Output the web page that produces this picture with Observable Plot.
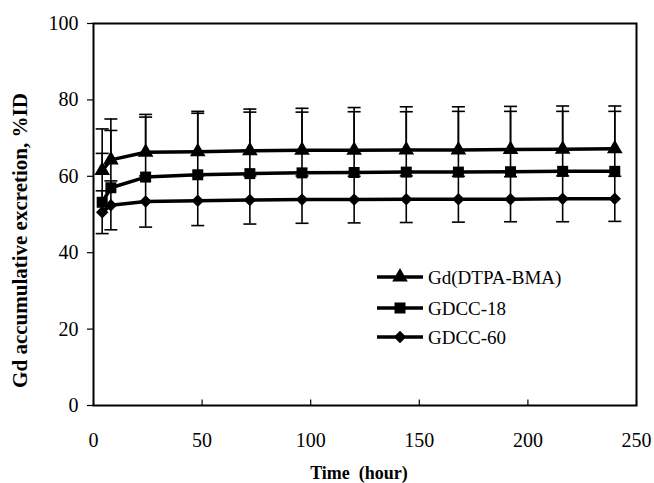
<!DOCTYPE html>
<html>
<head>
<meta charset="utf-8">
<script src="https://cdn.jsdelivr.net/npm/d3@7"></script>
<script src="https://cdn.jsdelivr.net/npm/@observablehq/plot@0.6"></script>
<style>
  html, body { margin: 0; padding: 0; background: #fff; }
  #chart { width: 654px; height: 483px; }
</style>
</head>
<body>
<div id="chart"></div>
<script>
// ---- data ----
const times = [4, 8, 24, 48, 72, 96, 120, 144, 168, 192, 216, 240];
const seriesNames = ["Gd(DTPA-BMA)", "GDCC-18", "GDCC-60"];
const gdValues   = [61.5, 64.3, 66.3, 66.4, 66.7, 66.8, 66.8, 66.9, 66.9, 67.0, 67.1, 67.2];
const gdErr      = [10.9, 10.7, 9.9, 10.6, 10.9, 11.0, 11.2, 11.3, 11.3, 11.3, 11.3, 11.2];
const g18Values  = [53.2, 57.0, 59.8, 60.4, 60.7, 60.9, 61.0, 61.1, 61.1, 61.2, 61.3, 61.3];
const g18Err     = [12.8, 15.0, 15.7, 16.1, 16.1, 15.9, 15.9, 15.8, 15.9, 15.8, 15.7, 15.7];
const g60Values  = [50.6, 52.4, 53.4, 53.6, 53.8, 53.9, 53.9, 54.0, 54.0, 54.0, 54.1, 54.1];
const g60Err     = [5.6, 6.4, 6.7, 6.5, 6.3, 6.2, 6.1, 6.1, 6.0, 5.9, 6.0, 5.9];
const xTicks = [0, 50, 100, 150, 200, 250];
const yTicks = [0, 20, 40, 60, 80, 100];
const xLabel = "Time  (hour)";
const yLabel = "Gd accumulative excretion, %ID";

// ---- table built from the arrays ----
const valueSets = [gdValues, g18Values, g60Values];
const errSets = [gdErr, g18Err, g60Err];
const errUp = [true, true, true];
const errDown = [false, false, true];
const rows = [];
seriesNames.forEach((name, s) => {
  times.forEach((t, i) => {
    const v = valueSets[s][i], e = errSets[s][i];
    rows.push({
      series: name, time: t, value: v,
      lo: errDown[s] ? v - e : v,
      hi: errUp[s] ? v + e : v,
      hasLo: errDown[s], hasHi: errUp[s]
    });
  });
});

const symbolRange = ["triangle", "square", "diamond2"];
const symbolSizes = {"triangle": 5.8, "square": 6.2, "diamond2": 5.6};
const serif = "Liberation Serif";

// custom symbols: horizontal error cap, inward x tick
const capSymbol = { draw(ctx) { ctx.moveTo(-6.5, 0); ctx.lineTo(6.5, 0); } };
const vTickSymbol = { draw(ctx) { ctx.moveTo(0, 0); ctx.lineTo(0, -6); } };

function legendMark(index, scales, values, dims) {
  const g = d3.create("svg:g");
  const x0 = dims.marginLeft + 284, x1 = dims.marginLeft + 330, xm = dims.marginLeft + 307;
  const tops = [254, 285, 314];
  seriesNames.forEach((name, s) => {
    const y = dims.marginTop + tops[s];
    g.append("line").attr("x1", x0).attr("x2", x1).attr("y1", y).attr("y2", y)
      .attr("stroke", "#000").attr("stroke-width", 3.5);
    const sym = {triangle: d3.symbolTriangle, square: d3.symbolSquare, diamond2: d3.symbolDiamond2}[symbolRange[s]];
    const r = symbolSizes[symbolRange[s]];
    g.append("path").attr("transform", `translate(${xm},${y})`)
      .attr("d", d3.symbol(sym, r * r * Math.PI)()).attr("fill", "#000");
    g.append("text").attr("x", x1 + 5).attr("y", y).attr("dy", "0.35em")
      .attr("text-anchor", "start")
      .style("font-family", serif).style("font-size", "19px").attr("fill", "#000").text(name);
  });
  return g.node();
}

const chart = Plot.plot({
  width: 654,
  height: 483,
  marginLeft: 93,
  marginRight: 18,
  marginTop: 23,
  marginBottom: 78,
  style: { fontFamily: serif, background: "#fff", color: "#000" },
  x: { domain: [0, 250] },
  y: { domain: [0, 100] },
  symbol: { domain: seriesNames, range: symbolRange },
  marks: [
    Plot.axisY({ ticks: yTicks, tickSize: 6, tickPadding: 9, fontSize: 20, fontFamily: serif, label: null, stroke: "#000", strokeWidth: 1.2 }),
    Plot.axisX({ ticks: xTicks, tickSize: 0, tickPadding: 27, fontSize: 20, fontFamily: serif, label: null }),
    Plot.dot(xTicks, { x: d => d, frameAnchor: "bottom", symbol: vTickSymbol, stroke: "#000", fill: "none", strokeWidth: 1.2 }),
    // error bars
    Plot.ruleX(rows, { x: "time", y1: "lo", y2: "hi", stroke: "#000", strokeWidth: 1.6 }),
    Plot.dot(rows.filter(d => d.hasHi), { x: "time", y: "hi", symbol: capSymbol, stroke: "#000", fill: "none", strokeWidth: 1.6 }),
    Plot.dot(rows.filter(d => d.hasLo), { x: "time", y: "lo", symbol: capSymbol, stroke: "#000", fill: "none", strokeWidth: 1.6 }),
    // lines
    Plot.line(rows, { x: "time", y: "value", z: "series", stroke: "#000", strokeWidth: 3.5 }),
    // markers
    ...symbolRange.map((sym, s) =>
      Plot.dot(rows.filter(d => d.series === seriesNames[s]), { x: "time", y: "value", symbol: "series", r: symbolSizes[sym], fill: "#000", stroke: "none" })
    ),
    Plot.frame({ stroke: "#000", strokeWidth: 2 }),
    // axis titles
    Plot.text([xLabel], { text: d => d, frameAnchor: "bottom", dy: 73, dx: -6, fontSize: 18, fontWeight: "bold", fontFamily: serif, fill: "#000" }),
    Plot.text([yLabel], { text: d => d, frameAnchor: "left", textAnchor: "middle", rotate: -90, dx: -73, dy: 26, fontSize: 21, fontWeight: "bold", fontFamily: serif, fill: "#000" }),
    legendMark
  ]
});
document.getElementById("chart").appendChild(chart);
</script>
</body>
</html>
